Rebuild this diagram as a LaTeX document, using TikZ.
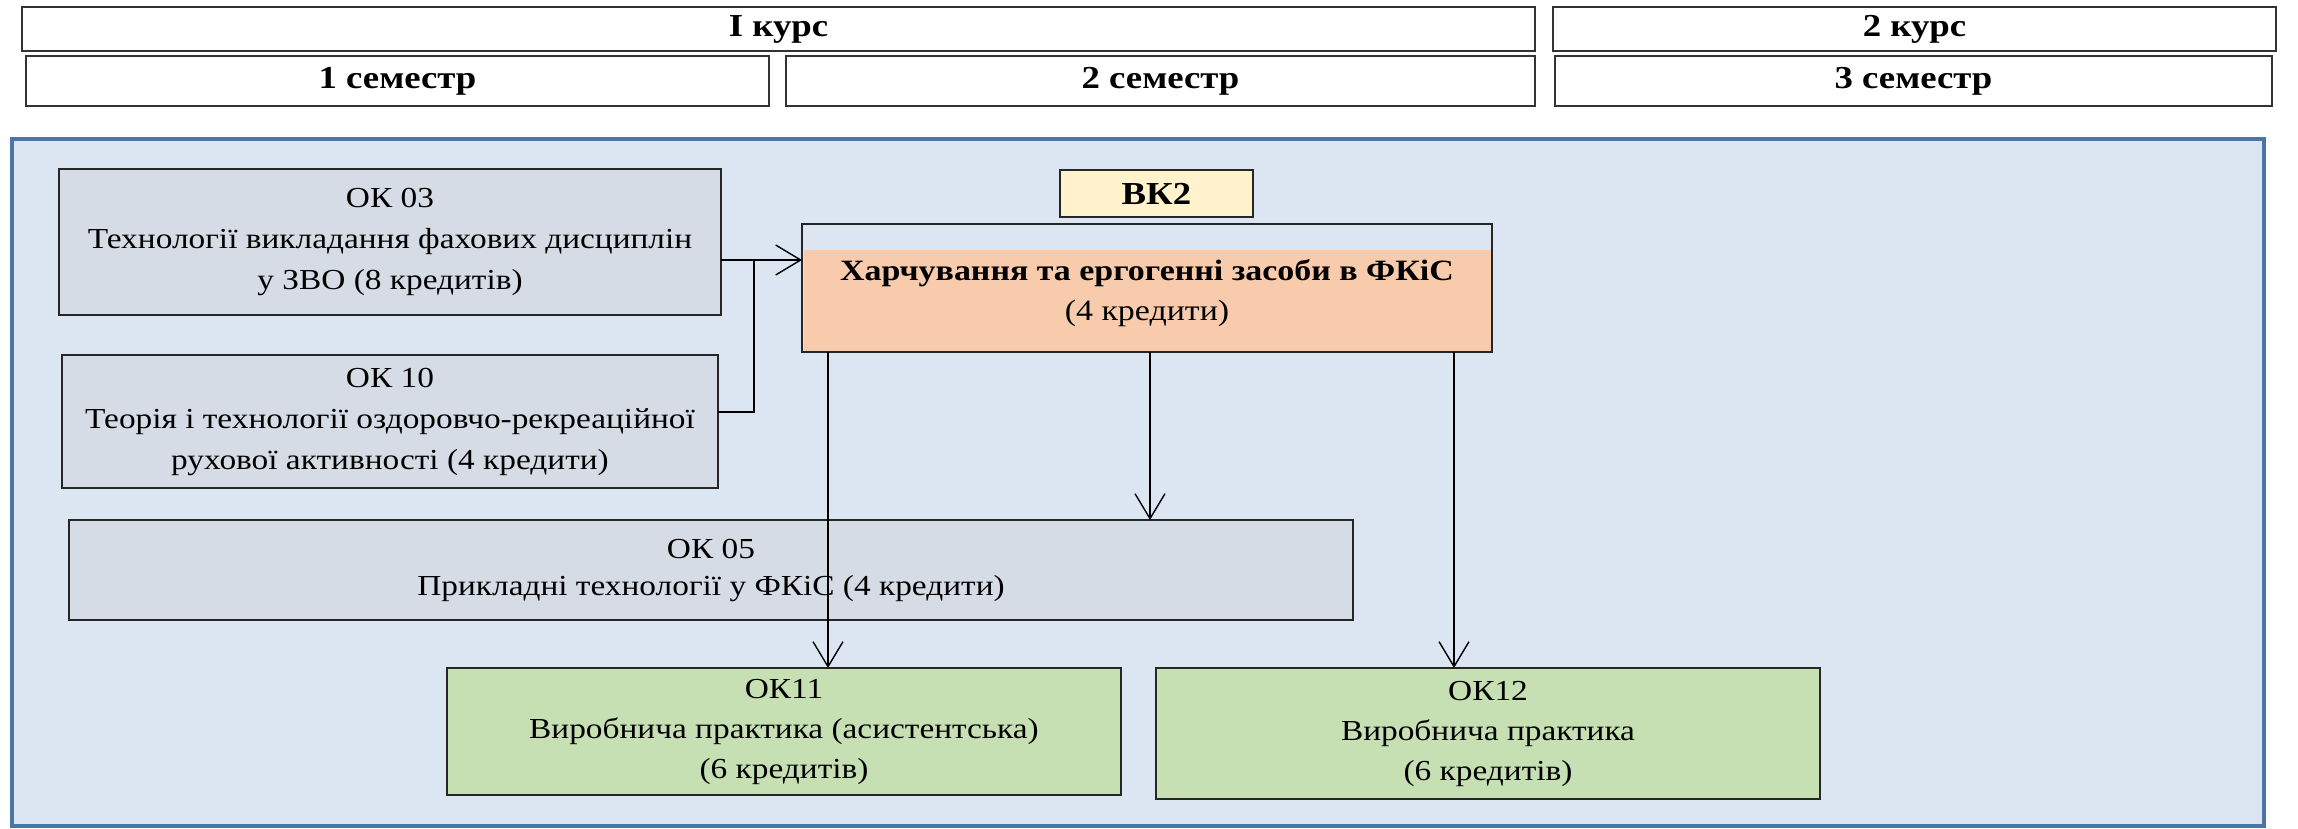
\documentclass[tikz,border=0pt]{standalone}
\usepackage{fontspec}
\setmainfont{Liberation Serif}[FakeStretch=1.15]
\usetikzlibrary{arrows.meta}
\definecolor{panelbg}{HTML}{DCE6F2}
\definecolor{panelframe}{HTML}{4A76A8}
\definecolor{greybox}{HTML}{D6DCE5}
\definecolor{greenbox}{HTML}{C6E0B4}
\definecolor{orangebox}{HTML}{F8CBAD}
\definecolor{yellowbox}{HTML}{FFF2CC}
\tikzset{
  hdr/.style={draw=black!80, line width=2pt, fill=white, inner sep=0pt, outer sep=0pt, anchor=north west, align=center, font=\fontsize{32}{38}\selectfont\bfseries},
  cbox/.style={draw=black!85, line width=2.5pt, inner sep=0pt, outer sep=0pt, anchor=north west, align=center, font=\fontsize{29}{41}\selectfont},
  conn/.style={line width=1.4pt, -{Straight Barb[length=25pt,width=30pt,line width=1.4pt]}},
  plain/.style={line width=1.4pt}
}
\begin{document}
\begin{tikzpicture}[x=1pt,y=-1pt]
\useasboundingbox (0,0) rectangle (2298,829);
\fill[white] (0,0) rectangle (2298,829);
% header
\node[hdr, minimum width=1513pt, minimum height=44pt] (k1) at (22,7) {І курс};
\node[hdr, minimum width=723pt, minimum height=44pt] (k2) at (1553,7) {2 курс};
\node[hdr, minimum width=743pt, minimum height=50pt] (s1) at (26,56) {1 семестр};
\node[hdr, minimum width=749pt, minimum height=50pt] (s2) at (786,56) {2 семестр};
\node[hdr, minimum width=717pt, minimum height=50pt] (s3) at (1555,56) {3 семестр};
% panel
\draw[panelframe, line width=3.5pt, fill=panelbg] (12,139) rectangle (2264,826);
% boxes
\node[cbox, fill=greybox, minimum width=662pt, minimum height=146pt] (ok03) at (59,169)
  {ОК 03\\Технології викладання фахових дисциплін\\у ЗВО (8 кредитів)};
\node[cbox, fill=greybox, minimum width=656pt, minimum height=133pt] (ok10) at (62,355)
  {ОК 10\\Теорія і технології оздоровчо-рекреаційної\\рухової активності (4 кредити)};
\node[cbox, fill=yellowbox, minimum width=193pt, minimum height=47pt, font=\fontsize{32}{38}\selectfont\bfseries] (vk2) at (1060,170) {ВК2};
\node[cbox, fill=panelbg, minimum width=690pt, minimum height=128pt] (harch) at (802,224) {};
\fill[orangebox] (803.5,250) rectangle (1490.5,350.5);
\draw[black!85, line width=2.5pt] (harch.north west) rectangle (harch.south east);
\node[align=center, font=\fontsize{29.5}{40}\selectfont, inner sep=0pt] (harcht) at (1147,293)
  {\textbf{Харчування та ергогенні засоби в ФКіС}\\(4 кредити)};
\node[cbox, fill=greybox, minimum width=1284pt, minimum height=100pt, font=\fontsize{29}{37}\selectfont] (ok05) at (69,520)
  {ОК 05\\Прикладні технології у ФКіС (4 кредити)};
\node[cbox, fill=greenbox, minimum width=674pt, minimum height=127pt, font=\fontsize{29}{40}\selectfont] (ok11) at (447,668)
  {ОК11\\Виробнича практика (асистентська)\\(6 кредитів)};
\node[cbox, fill=greenbox, minimum width=664pt, minimum height=131pt, font=\fontsize{29}{40}\selectfont] (ok12) at (1156,668)
  {ОК12\\Виробнича практика\\(6 кредитів)};
% connectors
\coordinate (j1) at (754,412);
\coordinate (j2) at (754,260);
\draw[conn] (ok03.east |- j2) -- (harch.west |- j2);
\draw[plain] (ok10.east |- j1) -- (j1) -- (j2);
\draw[conn] (harch.south -| 1150,0) -- (ok05.north -| 1150,0);
\draw[conn] (harch.south -| 828,0) -- (ok11.north -| 828,0);
\draw[conn] (harch.south -| 1454,0) -- (ok12.north -| 1454,0);
\end{tikzpicture}
\end{document}
